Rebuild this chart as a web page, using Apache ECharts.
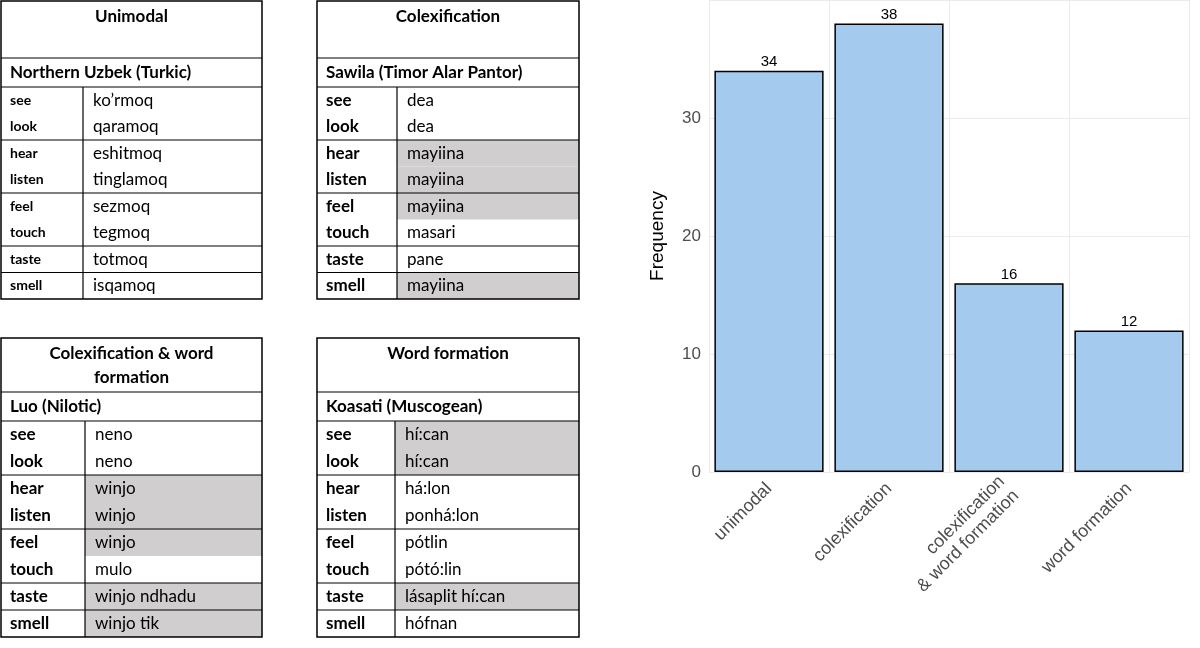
<!DOCTYPE html>
<html><head><meta charset="utf-8">
<script src="https://cdn.jsdelivr.net/npm/echarts@6/dist/echarts.min.js"></script>
<style>html,body{margin:0;padding:0;background:#fff}#c{width:1200px;height:648px}</style>
</head><body><div id="c"></div>
<script>
// Bar chart data
const categories = ['unimodal', 'colexification', 'colexification\n& word formation', 'word formation'];
const frequencies = [34, 38, 16, 12];
const yTicks = [0, 10, 20, 30];

// Table data
const senses = ['see', 'look', 'hear', 'listen', 'feel', 'touch', 'taste', 'smell'];
const groups = [2, 2, 2, 1, 1];
const t1Title = ['Unimodal'];
const t1Lang = 'Northern Uzbek (Turkic)';
const t1Words = ['ko’rmoq', 'qaramoq', 'eshitmoq', 'tinglamoq', 'sezmoq', 'tegmoq', 'totmoq', 'isqamoq'];
const t1Shaded = [0, 0, 0, 0, 0, 0, 0, 0];
const t2Title = ['Colexification'];
const t2Lang = 'Sawila (Timor Alar Pantor)';
const t2Words = ['dea', 'dea', 'mayiina', 'mayiina', 'mayiina', 'masari', 'pane', 'mayiina'];
const t2Shaded = [0, 0, 1, 1, 1, 0, 0, 1];
const t3Title = ['Colexification & word', 'formation'];
const t3Lang = 'Luo (Nilotic)';
const t3Words = ['neno', 'neno', 'winjo', 'winjo', 'winjo', 'mulo', 'winjo ndhadu', 'winjo tik'];
const t3Shaded = [0, 0, 1, 1, 1, 0, 1, 1];
const t4Title = ['Word formation'];
const t4Lang = 'Koasati (Muscogean)';
const t4Words = ['hí:can', 'hí:can', 'há:lon', 'ponhá:lon', 'pótlin', 'pótó:lin', 'lásaplit hí:can', 'hófnan'];
const t4Shaded = [1, 1, 0, 0, 0, 0, 1, 0];

const FONT = 'Lato';
const graphics = [];
function table(x, y0, w, divX, title, lang, words, shaded, headerH, langH, rowH, senseSize) {
  const ys = y0 + headerH + langH;
  const yEnd = ys + rowH * 8;
  for (let i = 0; i < 8; i++) {
    if (shaded[i]) graphics.push({type: 'rect', shape: {x: x + divX, y: ys + i * rowH, width: w - divX, height: rowH}, style: {fill: '#d0cece'}});
  }
  graphics.push({type: 'rect', shape: {x: x, y: y0, width: w, height: yEnd - y0}, style: {fill: 'none', stroke: '#000', lineWidth: 1.5}});
  graphics.push({type: 'line', shape: {x1: x, y1: y0 + headerH, x2: x + w, y2: y0 + headerH}, style: {stroke: '#000', lineWidth: 1.2}});
  graphics.push({type: 'line', shape: {x1: x, y1: ys, x2: x + w, y2: ys}, style: {stroke: '#000', lineWidth: 1.2}});
  graphics.push({type: 'line', shape: {x1: x + divX, y1: ys, x2: x + divX, y2: yEnd}, style: {stroke: '#000', lineWidth: 1.2}});
  let r = 0;
  groups.forEach((g, gi) => {
    r += g;
    if (gi < groups.length - 1) graphics.push({type: 'line', shape: {x1: x, y1: ys + r * rowH, x2: x + w, y2: ys + r * rowH}, style: {stroke: '#000', lineWidth: 1.2}});
  });
  title.forEach((t, i) => graphics.push({type: 'text', x: x + w / 2, y: y0 + 16 + i * 24, style: {text: t, font: 'bold 17px ' + FONT, fill: '#000', align: 'center', verticalAlign: 'middle'}}));
  graphics.push({type: 'text', x: x + 9, y: y0 + headerH + langH / 2, style: {text: lang, font: 'bold 17px ' + FONT, fill: '#000', verticalAlign: 'middle'}});
  for (let i = 0; i < 8; i++) {
    const cy = ys + i * rowH + rowH / 2;
    graphics.push({type: 'text', x: x + 9, y: cy, style: {text: senses[i], font: 'bold ' + senseSize + 'px ' + FONT, fill: '#000', verticalAlign: 'middle'}});
    graphics.push({type: 'text', x: x + divX + 10, y: cy, style: {text: words[i], font: '17px ' + FONT, fill: '#000', verticalAlign: 'middle'}});
  }
}
table(1, 1, 261, 82, t1Title, t1Lang, t1Words, t1Shaded, 57, 29, 26.5, 14);
table(317, 1, 262, 80, t2Title, t2Lang, t2Words, t2Shaded, 57, 29, 26.5, 17);
table(1, 338, 261, 84, t3Title, t3Lang, t3Words, t3Shaded, 54, 29, 27, 17);
table(317, 338, 262, 78, t4Title, t4Lang, t4Words, t4Shaded, 54, 29, 27, 17);

const chart = echarts.init(document.getElementById('c'));
chart.setOption({
  animation: false,
  graphic: graphics,
  grid: {left: 709, right: 11, top: 0, bottom: 176},
  xAxis: {type: 'category', data: categories,
    axisLine: {show: false}, axisTick: {show: false},
    splitLine: {show: true, lineStyle: {color: '#ebebeb'}},
    axisLabel: {rotate: 45, color: '#4d4d4d', fontSize: 18, fontFamily: 'Liberation Sans', margin: 14, lineHeight: 20}},
  yAxis: {type: 'value', min: 0, max: 40, interval: 10, name: 'Frequency', nameLocation: 'middle', nameGap: 42,
    nameTextStyle: {fontSize: 19, color: '#000', fontFamily: 'Liberation Sans'},
    axisLine: {show: false}, axisTick: {show: false},
    splitLine: {lineStyle: {color: '#ebebeb'}},
    axisLabel: {color: '#4d4d4d', fontSize: 17, fontFamily: 'Liberation Sans', formatter: v => yTicks.includes(v) ? String(v) : ''}},
  series: [{type: 'bar', data: frequencies, barCategoryGap: '9%',
    itemStyle: {color: '#a4caee', borderColor: '#000', borderWidth: 1.5},
    label: {show: true, position: 'top', distance: 1, color: '#000', fontSize: 15, fontFamily: 'Liberation Sans'}}]
});
</script></body></html>
